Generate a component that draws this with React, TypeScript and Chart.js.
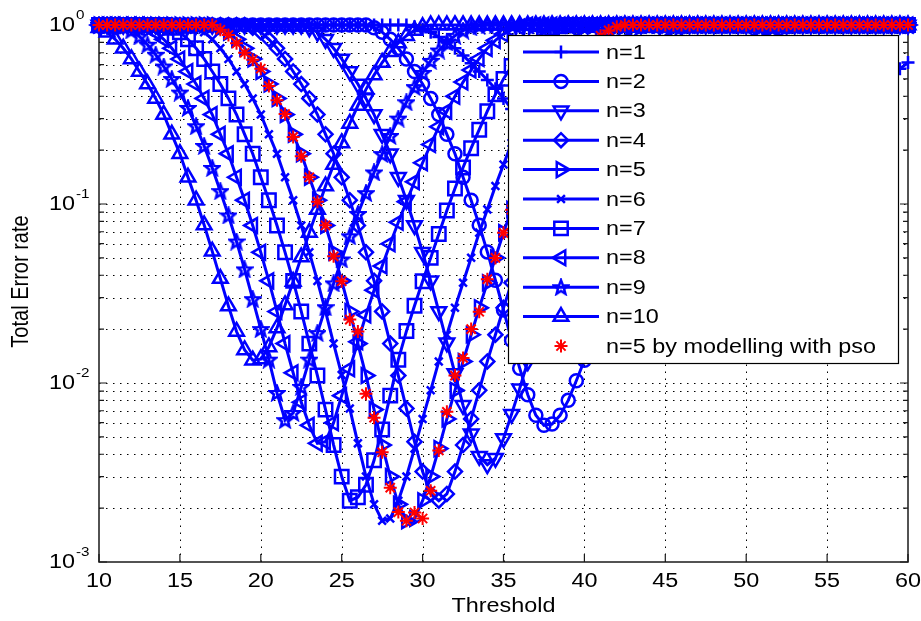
import React, { useEffect, useRef } from 'react';
import { Chart, registerables } from 'chart.js';
import { drawPoint } from 'chart.js/helpers';

Chart.register(...registerables);

const thresholds = [
  10, 10.5, 11, 11.5, 12, 12.5, 13, 13.5, 14, 14.5,
  15, 15.5, 16, 16.5, 17, 17.5, 18, 18.5, 19, 19.5,
  20, 20.5, 21, 21.5, 22, 22.5, 23, 23.5, 24, 24.5,
  25, 25.5, 26, 26.5, 27, 27.5, 28, 28.5, 29, 29.5,
  30, 30.5, 31, 31.5, 32, 32.5, 33, 33.5, 34, 34.5,
  35, 35.5, 36, 36.5, 37, 37.5, 38, 38.5, 39, 39.5,
  40, 40.5, 41, 41.5, 42, 42.5, 43, 43.5, 44, 44.5,
  45, 45.5, 46, 46.5, 47, 47.5, 48, 48.5, 49, 49.5,
  50, 50.5, 51, 51.5, 52, 52.5, 53, 53.5, 54, 54.5,
  55, 55.5, 56, 56.5, 57, 57.5, 58, 58.5, 59, 59.5,
  60,
];

const n1Values = [
  1, 1, 1, 1, 1, 1, 1, 1, 1, 1,
  1, 1, 1, 1, 1, 1, 1, 1, 1, 1,
  1, 1, 1, 1, 1, 1, 1, 1, 1, 1,
  1, 1, 1, 1, 1, 1, 1, 1, 1, 0.977,
  0.948, 0.912, 0.857, 0.8, 0.741, 0.676, 0.612, 0.55, 0.493, 0.44,
  0.389, 0.339, 0.29, 0.245, 0.207, 0.173, 0.141, 0.116, 0.0947, 0.0768,
  0.0615, 0.0494, 0.039, 0.031, 0.0247, 0.0205, 0.018, 0.0165, 0.016, 0.0158,
  0.016, 0.0168, 0.018, 0.0195, 0.0212, 0.0235, 0.0268, 0.0312, 0.0365, 0.0427,
  0.0501, 0.0589, 0.0692, 0.0804, 0.0933, 0.108, 0.126, 0.145, 0.166, 0.191,
  0.219, 0.248, 0.282, 0.316, 0.355, 0.394, 0.437, 0.479, 0.525, 0.569,
  0.617,
];

const n2Values = [
  1, 1, 1, 1, 1, 1, 1, 1, 1, 1,
  1, 1, 1, 1, 1, 1, 1, 1, 1, 1,
  1, 1, 1, 1, 1, 1, 1, 1, 1, 1,
  1, 1, 1, 1, 0.966, 0.912, 0.832, 0.741, 0.646, 0.55,
  0.468, 0.389, 0.316, 0.245, 0.191, 0.141, 0.105, 0.0762, 0.054, 0.0375,
  0.0256, 0.0173, 0.0121, 0.0086, 0.0066, 0.0058, 0.0059, 0.0066, 0.008, 0.0103,
  0.0134, 0.0171, 0.0224, 0.0288, 0.0372, 0.0479, 0.0617, 0.0776, 0.0977, 0.123,
  0.151, 0.191, 0.234, 0.282, 0.339, 0.398, 0.468, 0.537, 0.603, 0.676,
  0.741, 0.813, 0.871, 0.912, 0.955, 0.977, 1, 1, 1, 1,
  1, 1, 1, 1, 1, 1, 1, 1, 1, 1,
  1,
];

const n3Values = [
  1, 1, 1, 1, 1, 1, 1, 1, 1, 1,
  1, 1, 1, 1, 1, 1, 1, 1, 1, 1,
  1, 1, 1, 1, 1, 1, 0.966, 0.912, 0.832, 0.741,
  0.646, 0.55, 0.468, 0.389, 0.316, 0.245, 0.191, 0.141, 0.105, 0.0759,
  0.0537, 0.0372, 0.0251, 0.0168, 0.0113, 0.0075, 0.0052, 0.0039, 0.0035, 0.0038,
  0.0049, 0.0067, 0.0093, 0.0132, 0.0186, 0.0263, 0.0363, 0.0501, 0.0692, 0.0933,
  0.126, 0.166, 0.219, 0.282, 0.355, 0.437, 0.525, 0.617, 0.708, 0.794,
  0.871, 0.933, 0.977, 1, 1, 1, 1, 1, 1, 1,
  1, 1, 1, 1, 1, 1, 1, 1, 1, 1,
  1, 1, 1, 1, 1, 1, 1, 1, 1, 1,
  1,
];

const n4Values = [
  1, 1, 1, 1, 1, 1, 1, 1, 1, 1,
  1, 1, 1, 1, 1, 1, 1, 1, 1, 0.966,
  0.912, 0.832, 0.741, 0.646, 0.55, 0.468, 0.389, 0.316, 0.245, 0.191,
  0.141, 0.105, 0.0759, 0.0537, 0.0372, 0.0251, 0.0166, 0.011, 0.0072, 0.0047,
  0.0032, 0.0024, 0.0022, 0.0024, 0.0032, 0.0045, 0.0063, 0.0091, 0.0132, 0.0186,
  0.0263, 0.0363, 0.0501, 0.0692, 0.0933, 0.126, 0.166, 0.219, 0.282, 0.355,
  0.437, 0.525, 0.617, 0.708, 0.794, 0.871, 0.933, 0.977, 1, 1,
  1, 1, 1, 1, 1, 1, 1, 1, 1, 1,
  1, 1, 1, 1, 1, 1, 1, 1, 1, 1,
  1, 1, 1, 1, 1, 1, 1, 1, 1, 1,
  1,
];

const n5Values = [
  1, 1, 1, 1, 1, 1, 1, 1, 1, 1,
  1, 1, 1, 1, 1, 0.966, 0.912, 0.832, 0.741, 0.646,
  0.55, 0.468, 0.389, 0.316, 0.245, 0.191, 0.141, 0.105, 0.0759, 0.0537,
  0.0372, 0.0251, 0.0166, 0.011, 0.0071, 0.0045, 0.003, 0.0021, 0.0017, 0.00175,
  0.0022, 0.003, 0.0043, 0.0063, 0.0091, 0.0132, 0.0186, 0.0263, 0.0363, 0.0501,
  0.0692, 0.0933, 0.126, 0.166, 0.219, 0.282, 0.355, 0.437, 0.525, 0.617,
  0.708, 0.794, 0.871, 0.933, 0.977, 1, 1, 1, 1, 1,
  1, 1, 1, 1, 1, 1, 1, 1, 1, 1,
  1, 1, 1, 1, 1, 1, 1, 1, 1, 1,
  1, 1, 1, 1, 1, 1, 1, 1, 1, 1,
  1,
];

const n6Values = [
  1, 1, 1, 1, 1, 1, 1, 1, 1, 1,
  1, 1, 0.966, 0.912, 0.832, 0.741, 0.646, 0.55, 0.468, 0.389,
  0.316, 0.245, 0.191, 0.141, 0.105, 0.0759, 0.0537, 0.0372, 0.0251, 0.0166,
  0.0111, 0.0072, 0.0046, 0.003, 0.0021, 0.0017, 0.00175, 0.0022, 0.003, 0.0043,
  0.0063, 0.0091, 0.0132, 0.0186, 0.0263, 0.0363, 0.0501, 0.0692, 0.0933, 0.126,
  0.166, 0.219, 0.282, 0.355, 0.437, 0.525, 0.617, 0.708, 0.794, 0.871,
  0.933, 0.977, 1, 1, 1, 1, 1, 1, 1, 1,
  1, 1, 1, 1, 1, 1, 1, 1, 1, 1,
  1, 1, 1, 1, 1, 1, 1, 1, 1, 1,
  1, 1, 1, 1, 1, 1, 1, 1, 1, 1,
  1,
];

const n7Values = [
  1, 1, 1, 1, 1, 1, 1, 1, 1, 0.966,
  0.912, 0.832, 0.741, 0.646, 0.55, 0.468, 0.389, 0.316, 0.245, 0.191,
  0.141, 0.105, 0.0759, 0.0537, 0.0372, 0.0251, 0.0166, 0.011, 0.0071, 0.0045,
  0.003, 0.0022, 0.0023, 0.0027, 0.0037, 0.0055, 0.0085, 0.0135, 0.0195, 0.027,
  0.037, 0.05, 0.068, 0.092, 0.122, 0.16, 0.205, 0.26, 0.33, 0.41,
  0.5, 0.59, 0.68, 0.77, 0.85, 0.91, 0.96, 0.985, 1, 1,
  1, 1, 1, 1, 1, 1, 1, 1, 1, 1,
  1, 1, 1, 1, 1, 1, 1, 1, 1, 1,
  1, 1, 1, 1, 1, 1, 1, 1, 1, 1,
  1, 1, 1, 1, 1, 1, 1, 1, 1, 1,
  1,
];

const n8Values = [
  1, 1, 1, 1, 1, 1, 0.966, 0.912, 0.832, 0.741,
  0.646, 0.55, 0.468, 0.389, 0.316, 0.245, 0.191, 0.141, 0.105, 0.0759,
  0.0537, 0.0372, 0.0251, 0.0166, 0.0114, 0.0078, 0.0058, 0.0046, 0.0047, 0.006,
  0.0085, 0.012, 0.017, 0.024, 0.033, 0.045, 0.06, 0.079, 0.103, 0.133,
  0.17, 0.215, 0.27, 0.33, 0.4, 0.48, 0.56, 0.65, 0.74, 0.82,
  0.89, 0.94, 0.975, 1, 1, 1, 1, 1, 1, 1,
  1, 1, 1, 1, 1, 1, 1, 1, 1, 1,
  1, 1, 1, 1, 1, 1, 1, 1, 1, 1,
  1, 1, 1, 1, 1, 1, 1, 1, 1, 1,
  1, 1, 1, 1, 1, 1, 1, 1, 1, 1,
  1,
];

const n9Values = [
  1, 1, 1, 0.98, 0.933, 0.863, 0.776, 0.682, 0.586, 0.499,
  0.419, 0.344, 0.272, 0.211, 0.159, 0.118, 0.0863, 0.0617, 0.0431, 0.0294,
  0.02, 0.0135, 0.0088, 0.0062, 0.0068, 0.0095, 0.0135, 0.019, 0.0265, 0.036,
  0.049, 0.066, 0.088, 0.115, 0.15, 0.19, 0.24, 0.3, 0.37, 0.45,
  0.54, 0.63, 0.72, 0.8, 0.87, 0.93, 0.97, 0.99, 1, 1,
  1, 1, 1, 1, 1, 1, 1, 1, 1, 1,
  1, 1, 1, 1, 1, 1, 1, 1, 1, 1,
  1, 1, 1, 1, 1, 1, 1, 1, 1, 1,
  1, 1, 1, 1, 1, 1, 1, 1, 1, 1,
  1, 1, 1, 1, 1, 1, 1, 1, 1, 1,
  1,
];

const n10Values = [
  0.966, 0.912, 0.832, 0.741, 0.646, 0.55, 0.468, 0.389, 0.316, 0.245,
  0.191, 0.141, 0.105, 0.0763, 0.0544, 0.0383, 0.0269, 0.0194, 0.0153, 0.0134,
  0.0136, 0.0159, 0.0203, 0.0273, 0.0369, 0.0505, 0.0692, 0.0933, 0.126, 0.166,
  0.219, 0.282, 0.355, 0.437, 0.525, 0.617, 0.708, 0.794, 0.871, 0.933,
  0.977, 1, 1, 1, 1, 1, 1, 1, 1, 1,
  1, 1, 1, 1, 1, 1, 1, 1, 1, 1,
  1, 1, 1, 1, 1, 1, 1, 1, 1, 1,
  1, 1, 1, 1, 1, 1, 1, 1, 1, 1,
  1, 1, 1, 1, 1, 1, 1, 1, 1, 1,
  1, 1, 1, 1, 1, 1, 1, 1, 1, 1,
  1,
];

const psoValues = [
  1, 1, 1, 1, 1, 1, 1, 1, 1, 1,
  1, 1, 1, 1, 1, 0.94, 0.88, 0.79, 0.7, 0.64,
  0.57, 0.456, 0.38, 0.318, 0.237, 0.185, 0.141, 0.103, 0.076, 0.051,
  0.037, 0.0226, 0.0194, 0.0087, 0.0064, 0.0041, 0.0026, 0.0019, 0.0017, 0.00189,
  0.00175, 0.0025, 0.0042, 0.0069, 0.011, 0.0138, 0.02, 0.025, 0.038, 0.05,
  0.069, 0.093, 0.126, 0.166, 0.219, 0.282, 0.355, 0.437, 0.525, 0.617,
  0.708, 0.794, 0.871, 0.933, 0.977, 1, 1, 1, 1, 1,
  1, 1, 1, 1, 1, 1, 1, 1, 1, 1,
  1, 1, 1, 1, 1, 1, 1, 1, 1, 1,
  1, 1, 1, 1, 1, 1, 1, 1, 1, 1,
  1,
];

const seriesLabels = ['n=1', 'n=2', 'n=3', 'n=4', 'n=5', 'n=6', 'n=7', 'n=8', 'n=9', 'n=10'];
const psoLabel = 'n=5 by modelling with pso';
const seriesValues = [n1Values, n2Values, n3Values, n4Values, n5Values, n6Values, n7Values, n8Values, n9Values, n10Values];

const xTickValues = [10, 15, 20, 25, 30, 35, 40, 45, 50, 55, 60];
const xTickLabels = ['10', '15', '20', '25', '30', '35', '40', '45', '50', '55', '60'];
const yDecadeValues = [0.001, 0.01, 0.1, 1];
const yDecadeExponents = ['-3', '-2', '-1', '0'];
const yMinorFactors = [2, 3, 4, 5, 6, 7, 8, 9];
const xTitle = 'Threshold';
const yTitle = 'Total Error rate';

const BLUE = '#0000ff';
const RED = '#ff0000';
const FONT = '"Liberation Sans", Arial, Helvetica, sans-serif';
const SX = 1.17;

function makePentagram(color: string): HTMLCanvasElement {
  const c = document.createElement('canvas');
  c.width = 18;
  c.height = 18;
  const g = c.getContext('2d')!;
  g.strokeStyle = color;
  g.lineWidth = 2.5;
  g.beginPath();
  for (let k = 0; k < 10; k++) {
    const r = k % 2 === 0 ? 7.5 : 3.2;
    const a = -Math.PI / 2 + (k * Math.PI) / 5;
    const px = 9 + r * Math.cos(a);
    const py = 9.5 + r * Math.sin(a);
    if (k === 0) g.moveTo(px, py);
    else g.lineTo(px, py);
  }
  g.closePath();
  g.stroke();
  return c;
}

function drawText(
  ctx: CanvasRenderingContext2D,
  text: string,
  x: number,
  y: number,
  align: CanvasTextAlign,
  size: number,
  rotate = 0
) {
  ctx.save();
  ctx.translate(x, y);
  ctx.scale(SX, 1);
  if (rotate) ctx.rotate(rotate);
  ctx.font = `${size}px ${FONT}`;
  ctx.textAlign = align;
  ctx.textBaseline = 'middle';
  ctx.fillStyle = '#000';
  ctx.fillText(text, 0, 0);
  ctx.restore();
}

export default function App() {
  const ref = useRef<HTMLCanvasElement>(null);

  useEffect(() => {
    const canvas = ref.current!;
    const pentagram = makePentagram(BLUE);
    const markerStyles: any[] = [
      { pointStyle: 'cross', radius: 6.5, rotation: 0 },
      { pointStyle: 'circle', radius: 6.5, rotation: 0 },
      { pointStyle: 'triangle', radius: 8.5, rotation: 180 },
      { pointStyle: 'rectRot', radius: 7, rotation: 0 },
      { pointStyle: 'triangle', radius: 8.5, rotation: 90 },
      { pointStyle: 'crossRot', radius: 5.5, rotation: 0 },
      { pointStyle: 'rect', radius: 9.5, rotation: 0 },
      { pointStyle: 'triangle', radius: 8.5, rotation: 270 },
      { pointStyle: pentagram, radius: 8, rotation: 0 },
      { pointStyle: 'triangle', radius: 8.5, rotation: 0 },
    ];

    const datasets: any[] = seriesValues.map((vals, i) => ({
      label: seriesLabels[i],
      data: thresholds.map((x, k) => ({ x, y: vals[k] })),
      borderColor: BLUE,
      backgroundColor: 'rgba(0,0,0,0)',
      borderWidth: 3,
      pointStyle: markerStyles[i].pointStyle,
      pointRadius: markerStyles[i].radius,
      pointRotation: markerStyles[i].rotation,
      pointBorderColor: BLUE,
      pointBackgroundColor: 'rgba(0,0,0,0)',
      pointBorderWidth: 2.5,
      clip: false,
      order: 11 - i,
    }));
    datasets.push({
      label: psoLabel,
      data: thresholds.map((x, k) => ({ x, y: psoValues[k] })),
      showLine: false,
      borderColor: RED,
      backgroundColor: 'rgba(0,0,0,0)',
      pointStyle: 'star',
      pointRadius: 6.5,
      pointBorderColor: RED,
      pointBackgroundColor: 'rgba(0,0,0,0)',
      pointBorderWidth: 2,
      clip: false,
      order: 0,
    });

    const matlabAxes = {
      id: 'matlabAxes',
      beforeDatasetsDraw(chart: any) {
        const { ctx, chartArea } = chart;
        const { left, right, top, bottom } = chartArea;
        const xs = chart.scales.x;
        const ys = chart.scales.y;
        ctx.save();
        ctx.strokeStyle = '#000';
        ctx.lineWidth = 1;
        ctx.setLineDash([1.5, 5.5]);
        xTickValues.forEach((v) => {
          if (v === xTickValues[0] || v === xTickValues[xTickValues.length - 1]) return;
          const px = Math.round(xs.getPixelForValue(v)) + 0.5;
          ctx.beginPath();
          ctx.moveTo(px, bottom);
          ctx.lineTo(px, top);
          ctx.stroke();
        });
        yDecadeValues.forEach((d, di) => {
          const vals = [d];
          if (di < yDecadeValues.length - 1) yMinorFactors.forEach((f) => vals.push(d * f));
          vals.forEach((v) => {
            if (v <= 0.001 || v >= 1) return;
            const py = Math.round(ys.getPixelForValue(v)) + 0.5;
            ctx.beginPath();
            ctx.moveTo(left, py);
            ctx.lineTo(right, py);
            ctx.stroke();
          });
        });
        ctx.setLineDash([]);
        ctx.strokeStyle = '#1a1a1a';
        ctx.lineWidth = 1.5;
        ctx.strokeRect(left, top, right - left, bottom - top);
        ctx.lineWidth = 1.2;
        xTickValues.forEach((v) => {
          const px = xs.getPixelForValue(v);
          ctx.beginPath();
          ctx.moveTo(px, bottom);
          ctx.lineTo(px, bottom - 8);
          ctx.moveTo(px, top);
          ctx.lineTo(px, top + 8);
          ctx.stroke();
        });
        yDecadeValues.forEach((d, di) => {
          const py = ys.getPixelForValue(d);
          ctx.beginPath();
          ctx.moveTo(left, py);
          ctx.lineTo(left + 8, py);
          ctx.moveTo(right, py);
          ctx.lineTo(right - 8, py);
          ctx.stroke();
          if (di < yDecadeValues.length - 1) {
            yMinorFactors.forEach((f) => {
              const pm = ys.getPixelForValue(d * f);
              ctx.beginPath();
              ctx.moveTo(left, pm);
              ctx.lineTo(left + 5, pm);
              ctx.moveTo(right, pm);
              ctx.lineTo(right - 5, pm);
              ctx.stroke();
            });
          }
        });
        xTickValues.forEach((v, i) => {
          drawText(ctx, xTickLabels[i], xs.getPixelForValue(v), bottom + 19, 'center', 20);
        });
        yDecadeValues.forEach((d, i) => {
          const py = ys.getPixelForValue(d);
          drawText(ctx, '10', left - 24, py, 'right', 20);
          drawText(ctx, yDecadeExponents[i], left - 23, py - 10, 'left', 13);
        });
        drawText(ctx, xTitle, (left + right) / 2, bottom + 44, 'center', 20);
        drawText(ctx, yTitle, 22, (top + bottom) / 2 - 12, 'center', 20, -Math.PI / 2);
        ctx.restore();
      },
      afterDraw(chart: any) {
        const { ctx } = chart;
        ctx.save();
        const bx = 508.5, by = 35.5, bw = 390, bh = 328;
        ctx.fillStyle = '#fff';
        ctx.fillRect(bx, by, bw, bh);
        ctx.strokeStyle = '#000';
        ctx.lineWidth = 1.2;
        ctx.strokeRect(bx, by, bw, bh);
        const allLabels = [...seriesLabels, psoLabel];
        allLabels.forEach((lab, i) => {
          const cy = 52 + i * 29.4;
          if (i < seriesLabels.length) {
            ctx.strokeStyle = BLUE;
            ctx.lineWidth = 3;
            ctx.beginPath();
            ctx.moveTo(523, cy);
            ctx.lineTo(599, cy);
            ctx.stroke();
            const st = markerStyles[i];
            ctx.strokeStyle = BLUE;
            ctx.fillStyle = 'rgba(0,0,0,0)';
            ctx.lineWidth = 2.5;
            drawPoint(ctx, { pointStyle: st.pointStyle, rotation: st.rotation, radius: st.radius, borderWidth: 2.5 } as any, 561, cy);
          } else {
            ctx.strokeStyle = RED;
            ctx.fillStyle = 'rgba(0,0,0,0)';
            ctx.lineWidth = 2;
            drawPoint(ctx, { pointStyle: 'star', rotation: 0, radius: 6.5, borderWidth: 2 } as any, 561, cy);
          }
          drawText(ctx, lab, 606, cy + 1, 'left', 20);
        });
        ctx.restore();
      },
    };

    const chart = new Chart(canvas, {
      type: 'line',
      data: { datasets },
      options: {
        animation: false,
        responsive: false,
        devicePixelRatio: 1,
        events: [],
        layout: { padding: { left: 99, right: 13, top: 25, bottom: 59 } },
        plugins: { legend: { display: false }, tooltip: { enabled: false } },
        elements: { line: { tension: 0 } },
        scales: {
          x: { type: 'linear', min: 10, max: 60, display: false },
          y: { type: 'logarithmic', min: 0.001, max: 1, display: false },
        },
      } as any,
      plugins: [matlabAxes as any],
    });
    return () => chart.destroy();
  }, []);

  return (
    <div style={{ position: 'absolute', left: 0, top: 0, width: 921, height: 621, background: '#fff' }}>
      <canvas ref={ref} width={921} height={621} style={{ width: 921, height: 621, display: 'block' }} />
    </div>
  );
}
